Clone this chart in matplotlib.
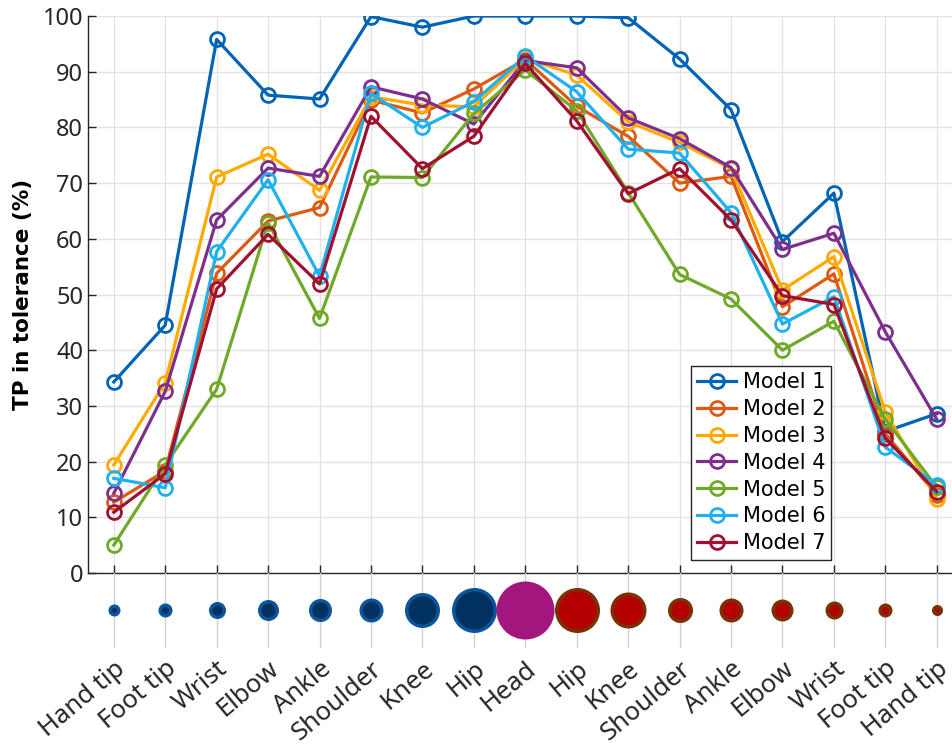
import matplotlib
matplotlib.use('Agg')
import matplotlib.pyplot as plt

# Joints ordered from one extremity through the head to the other
joints = ['Hand tip', 'Foot tip', 'Wrist', 'Elbow', 'Ankle', 'Shoulder', 'Knee', 'Hip',
          'Head', 'Hip', 'Knee', 'Shoulder', 'Ankle', 'Elbow', 'Wrist', 'Foot tip', 'Hand tip']

# True positives in tolerance (%) per model
model_1 = [34.3, 44.5, 95.8, 85.8, 85.1, 99.9, 98.0, 100.0, 100.0, 100.0, 99.7, 92.3, 83.2, 59.5, 68.2, 25.4, 28.6]
model_2 = [12.7, 18.3, 53.8, 63.2, 65.6, 84.9, 82.6, 86.9, 92.2, 83.8, 78.4, 70.0, 71.2, 47.8, 53.7, 25.0, 14.0]
model_3 = [19.4, 34.2, 71.1, 75.2, 68.7, 85.5, 84.0, 83.7, 92.4, 89.4, 81.0, 77.3, 72.6, 50.8, 56.8, 28.9, 13.3]
model_4 = [14.3, 32.6, 63.4, 72.7, 71.2, 87.3, 85.1, 80.6, 92.0, 90.7, 81.7, 78.0, 72.8, 58.1, 61.0, 43.3, 27.6]
model_5 = [5.0, 19.4, 33.0, 62.9, 45.7, 71.1, 71.0, 82.5, 90.3, 83.0, 68.3, 53.6, 49.2, 40.0, 45.2, 27.6, 15.4]
model_6 = [17.0, 15.3, 57.7, 70.6, 53.3, 86.1, 80.0, 84.6, 92.8, 86.4, 76.1, 75.4, 64.7, 44.7, 49.6, 22.6, 15.8]
model_7 = [10.9, 17.8, 51.0, 60.8, 51.9, 82.0, 72.6, 78.4, 91.5, 81.2, 68.1, 72.6, 63.4, 49.8, 48.2, 24.2, 14.6]

model_names = ['Model 1', 'Model 2', 'Model 3', 'Model 4', 'Model 5', 'Model 6', 'Model 7']

# Joint weight shown as bubble diameter (px) and which side of the body it belongs to
joint_weight = [12, 14, 17, 21, 23, 24, 35, 45, 58, 45, 36, 25, 24, 22, 18, 14, 11]
joint_side = ['left'] * 8 + ['head'] + ['right'] * 8

series = [model_1, model_2, model_3, model_4, model_5, model_6, model_7]
colors = ['#0064B6', '#DD5A12', '#FFAA00', '#7E2F8E', '#70A82A', '#20B0EE', '#A0102F']

side_style = {
    'left': ('#00315f', '#0a559b'),
    'head': ('#a3167e', '#a3167e'),
    'right': ('#b40000', '#7a3200'),
}

dpi = 100
fig = plt.figure(figsize=(9.52, 7.49), dpi=dpi)
x = list(range(len(joints)))
xlim = (-0.5, len(joints) - 0.5)

# Main line chart
ax = fig.add_axes([0.0925, 0.235, 0.9185, 0.7436])
for vals, name, c in zip(series, model_names, colors):
    ax.plot(x, vals, color=c, lw=2.3, marker='o', ms=10, mew=2.0,
            mfc='none', label=name)

ax.set_xlim(*xlim)
ax.set_ylim(0, 100)
ax.set_yticks(range(0, 101, 10))
ax.set_xticks(x)
ax.set_xticklabels([])
ax.grid(True, color='#e3e3e3', lw=1.0)
ax.set_axisbelow(True)
for s in ['top', 'right']:
    ax.spines[s].set_visible(False)
for s in ['left', 'bottom']:
    ax.spines[s].set_color('#262626')
    ax.spines[s].set_linewidth(1.0)
ax.tick_params(direction='in', length=6, width=1.0, color='#262626',
               labelsize=17, labelcolor='#262626')
for lab in ax.get_yticklabels():
    lab.set_family('Noto Sans')
ax.set_ylabel('TP in tolerance (%)', fontsize=15.5, fontweight='bold',
              family='DejaVu Sans', labelpad=7)

leg = ax.legend(loc='upper left', bbox_to_anchor=(0.689, 0.372), fontsize=15,
                handlelength=1.9, handletextpad=0.3, borderpad=0.3,
                labelspacing=0.33, fancybox=False, framealpha=1.0,
                borderaxespad=0)
leg.get_frame().set_edgecolor('#262626')
leg.get_frame().set_linewidth(1.0)

# Bubble strip under the chart
bx = fig.add_axes([0.0925, 0.135, 0.9185, 0.1])
edge_lw = 2.5
for xi, w, side in zip(x, joint_weight, joint_side):
    face, edge = side_style[side]
    lw = 0 if side == 'head' else edge_lw
    inner = w * 72 / dpi - lw
    bx.scatter([xi], [0], s=inner ** 2, color=face, edgecolors=edge,
               linewidths=lw, zorder=3)
bx.set_xlim(*xlim)
bx.set_ylim(-1, 1)
bx.set_yticks([])
bx.set_xticks(x)
bx.set_xticklabels(joints, rotation=40, ha='right', rotation_mode='anchor',
                   fontsize=18.5, family='Noto Sans', color='#262626')
bx.tick_params(axis='x', length=0, pad=6)
bx.grid(True, axis='x', color='#d0d0d0', lw=1.0)
bx.set_axisbelow(True)
for s in bx.spines.values():
    s.set_visible(False)
bx.patch.set_visible(False)

fig.savefig('out.png', dpi=dpi)
